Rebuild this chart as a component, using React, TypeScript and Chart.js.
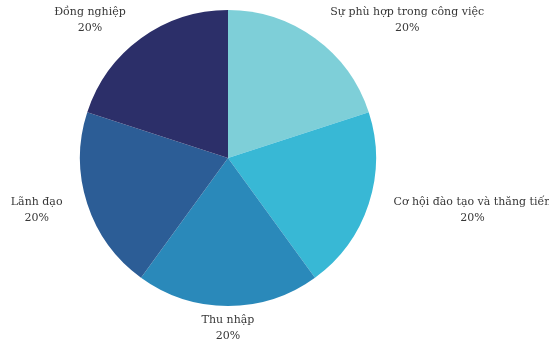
import React, { useEffect, useRef } from "react";
import { Chart, registerables } from "chart.js";

Chart.register(...registerables);

const categories = [
  "Sự phù hợp trong công việc",
  "Cơ hội đào tạo và thăng tiến",
  "Thu nhập",
  "Lãnh đạo",
  "Đồng nghiệp",
];
const values = [20, 20, 20, 20, 20];
const colors = ["#7ECFD8", "#38B8D5", "#2A89BA", "#2C5D96", "#2C2F69"];

const FONT = "11px 'DejaVu Serif'";
const TEXT_COLOR = "#383838";

const labelPlugin = {
  id: "outsideLabels",
  afterDatasetsDraw(chart: any) {
    const ctx = chart.ctx as CanvasRenderingContext2D;
    const meta = chart.getDatasetMeta(0);
    const total = values.reduce((a, b) => a + b, 0);
    ctx.save();
    ctx.font = FONT;
    ctx.fillStyle = TEXT_COLOR;
    ctx.textBaseline = "middle";
    ctx.textAlign = "center";
    meta.data.forEach((arc: any, i: number) => {
      const mid = (arc.startAngle + arc.endAngle) / 2;
      const px = arc.x + Math.cos(mid) * (arc.outerRadius + 26);
      const py = arc.y + Math.sin(mid) * (arc.outerRadius + 22);
      const lines = [categories[i], Math.round((values[i] / total) * 100) + "%"];
      const w = Math.max(...lines.map((l) => ctx.measureText(l).width));
      const dx = Math.cos(mid);
      let left: number;
      if (dx > 0.2) left = px;
      else if (dx < -0.2) left = px - w;
      else left = px - w / 2;
      const lh = 16;
      const top = py - (lines.length * lh) / 2;
      lines.forEach((l, k) => {
        ctx.fillText(l, left + w / 2, top + lh / 2 + k * lh);
      });
    });
    ctx.restore();
  },
};

export default function App() {
  const ref = useRef<HTMLCanvasElement>(null);
  useEffect(() => {
    document.body.style.margin = "0";
    const chart = new Chart(ref.current!, {
      type: "pie",
      data: {
        labels: categories,
        datasets: [
          {
            data: values,
            backgroundColor: colors,
            borderWidth: 0,
          },
        ],
      },
      options: {
        animation: false,
        responsive: false,
        layout: { padding: { top: 10, bottom: 38, left: 10, right: 103 } },
        plugins: {
          legend: { display: false },
          tooltip: { enabled: false },
        },
      },
      plugins: [labelPlugin],
    });
    return () => chart.destroy();
  }, []);
  return (
    <div style={{ width: 549, height: 344, background: "#fff" }}>
      <canvas ref={ref} width={549} height={344} />
    </div>
  );
}
